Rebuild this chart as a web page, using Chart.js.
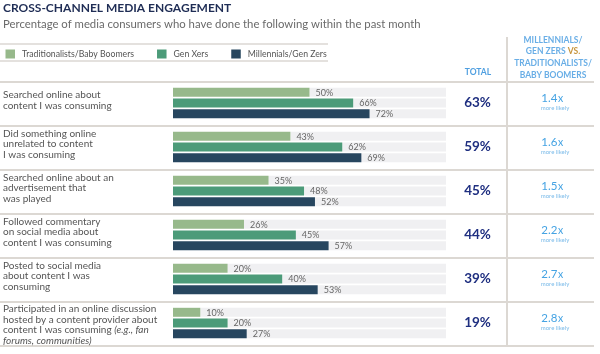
<!DOCTYPE html>
<html><head><meta charset="utf-8">
<script src="https://cdn.jsdelivr.net/npm/chart.js@4/dist/chart.umd.min.js"></script>
<style>html,body{margin:0;padding:0;background:#fff}#c{display:block}</style>
</head><body>
<canvas id="c" width="600" height="354"></canvas>
<script>
// ---- data ----
const titleText = "CROSS-CHANNEL MEDIA ENGAGEMENT";
const subtitleText = "Percentage of media consumers who have done the following within the past month";
const categories = [
  ["Searched online about", "content I was consuming"],
  ["Did something online", "unrelated to content", "I was consuming"],
  ["Searched online about an", "advertisement that", "was played"],
  ["Followed commentary", "on social media about", "content I was consuming"],
  ["Posted to social media", "about content I was", "consuming"],
  ["Participated in an online discussion", "hosted by a content provider about", "content I was consuming _(e.g., fan_", "_forums, communities)_"]
];
const seriesNames = ["Traditionalists/Baby Boomers", "Gen Xers", "Millennials/Gen Zers"];
const tradBoomers = [50, 43, 35, 26, 20, 10];
const genXers = [66, 62, 48, 45, 40, 20];
const millGenZ = [72, 69, 52, 57, 53, 27];
const totals = [63, 59, 45, 44, 39, 19];
const likelihood = [1.4, 1.6, 1.5, 2.2, 2.7, 2.8];
const totalHeader = "TOTAL";
const ratioHeader = ["MILLENNIALS/", "GEN ZERS |VS.", "TRADITIONALISTS/", "BABY BOOMERS"];
const ratioNote = "more likely";

// ---- styles ----
const seriesColors = ["#97b98b", "#4c9b79", "#27465f"];
const trackColor = "#f0f0f2";
const ruleColor = "#dcd8d3";
const FONT = "Lato, 'Open Sans', sans-serif";

const seriesValues = [tradBoomers, genXers, millGenZ];
const datasets = [];
seriesValues.forEach((vals, k) => {
  datasets.push({ label: seriesNames[k], data: vals, backgroundColor: seriesColors[k], stack: "s" + k, isValue: true });
  datasets.push({ label: "track", data: vals.map(v => 100 - v), backgroundColor: trackColor, stack: "s" + k, isValue: false });
});

function drawSegments(ctx, line, x, y, size, color, align) {
  // '_' toggles italic
  const parts = line.split("_");
  const segs = parts.map((t, i) => ({ t, it: i % 2 === 1 })).filter(s => s.t.length);
  let total = 0;
  segs.forEach(s => { ctx.font = (s.it ? "italic " : "") + size + "px " + FONT; s.w = ctx.measureText(s.t).width; total += s.w; });
  let cx = align === "center" ? x - total / 2 : x;
  ctx.textAlign = "left";
  segs.forEach(s => { ctx.font = (s.it ? "italic " : "") + size + "px " + FONT; ctx.fillStyle = color; ctx.fillText(s.t, cx, y); cx += s.w; });
}

const overlay = {
  id: "overlay",
  afterDraw(chart) {
    const ctx = chart.ctx;
    const ys = chart.scales.y;
    const ca = chart.chartArea;
    const n = categories.length;
    const step = (ca.bottom - ca.top) / n;
    ctx.save();
    ctx.textBaseline = "middle";
    // title + subtitle
    ctx.textAlign = "left";
    ctx.fillStyle = "#1f2d55";
    ctx.font = "bold 12px " + FONT;
    ctx.fillText(titleText, 3, 8);
    ctx.fillStyle = "#6a6a6a";
    ctx.font = "11.35px " + FONT;
    ctx.fillText(subtitleText, 3, 24);
    // legend
    ctx.strokeStyle = ruleColor;
    ctx.lineWidth = 1.5;
    ctx.beginPath(); ctx.moveTo(0, 44); ctx.lineTo(328, 44); ctx.moveTo(0, 61); ctx.lineTo(328, 61); ctx.stroke();
    let lx = 5.5;
    ctx.font = "8.7px " + FONT;
    seriesNames.forEach((name, k) => {
      ctx.fillStyle = seriesColors[k];
      ctx.fillRect(lx, 49.5, 9.5, 9);
      ctx.fillStyle = "#555";
      ctx.fillText(name, lx + 16.5, 54.5);
      lx += 16.5 + ctx.measureText(name).width + 23;
    });
    // row separators
    ctx.lineWidth = 2;
    ctx.beginPath();
    for (let i = 0; i <= n; i++) {
      const y = ca.top + i * step + 1;
      ctx.moveTo(0, y); ctx.lineTo(594, y);
    }
    ctx.moveTo(507, 37); ctx.lineTo(507, ca.bottom + 2);
    ctx.stroke();
    // headers
    ctx.textAlign = "center";
    ctx.fillStyle = "#4f9fe0";
    ctx.font = "bold 8.5px " + FONT;
    ctx.fillText(totalHeader, 478, 72);
    ratioHeader.forEach((ln, j) => {
      const y = 40 + j * 11.6;
      const parts = ln.split("|");
      ctx.font = "bold 8.5px " + FONT;
      const w0 = ctx.measureText(parts[0]).width;
      const w1 = parts[1] ? ctx.measureText(parts[1]).width : 0;
      let x = 553 - (w0 + w1) / 2;
      ctx.textAlign = "left";
      ctx.fillStyle = "#69aee6";
      ctx.fillText(parts[0], x, y);
      if (parts[1]) { ctx.fillStyle = "#c8963e"; ctx.fillText(parts[1], x + w0, y); }
    });
    // category labels, values, totals, ratios
    const metas = chart.data.datasets.map((d, i) => chart.getDatasetMeta(i));
    const lh = 10.7;
    for (let i = 0; i < n; i++) {
      const cy = ys.getPixelForValue(i);
      const firstBar = metas[0].data[i];
      const barTop = firstBar.y - firstBar.height / 2;
      const lines = categories[i];
      const startY = Math.max(barTop + 1, cy - 3 - (lines.length - 1) * lh / 2);
      lines.forEach((ln, j) => drawSegments(ctx, ln, 3, startY + j * lh, 10, "#555", "left"));
      // value labels
      ctx.textAlign = "left";
      ctx.font = "9px " + FONT;
      ctx.fillStyle = "#666";
      chart.data.datasets.forEach((d, di) => {
        if (!d.isValue) return;
        const el = metas[di].data[i];
        ctx.fillText(d.data[i] + "%", el.x + 6, el.y + 0.5);
      });
      // totals
      ctx.textAlign = "center";
      ctx.fillStyle = "#1f2f80";
      ctx.font = "bold 13.5px " + FONT;
      ctx.fillText(totals[i] + "%", 477.5, cy);
      // ratio
      const num = likelihood[i].toFixed(1);
      ctx.font = "11.5px " + FONT;
      const wn = ctx.measureText(num).width;
      ctx.font = "10.5px " + FONT;
      const wx = ctx.measureText("x").width;
      let rx = 552 - (wn + wx) / 2;
      ctx.textAlign = "left";
      ctx.fillStyle = "#45a3e3";
      ctx.font = "11.5px " + FONT;
      ctx.fillText(num, rx, cy - 4.5);
      ctx.font = "10.5px " + FONT;
      ctx.fillText("x", rx + wn + 0.5, cy - 4.5);
      ctx.textAlign = "center";
      ctx.font = "6px " + FONT;
      ctx.fillStyle = "#7bbbe9";
      ctx.fillText(ratioNote, 555, cy + 5.5);
    }
    ctx.restore();
  }
};

new Chart(document.getElementById("c"), {
  type: "bar",
  data: { labels: categories.map(l => l.join(" ").replace(/_/g, "")), datasets },
  options: {
    indexAxis: "y",
    responsive: false,
    animation: false,
    devicePixelRatio: 1,
    layout: { padding: { left: 173, right: 154, top: 81, bottom: 9 } },
    datasets: { bar: { categoryPercentage: 0.73, barPercentage: 0.84, borderWidth: 0 } },
    plugins: { legend: { display: false }, tooltip: { enabled: false } },
    scales: {
      x: { stacked: true, min: 0, max: 100, display: false },
      y: { stacked: true, display: false }
    }
  },
  plugins: [overlay]
});
</script>
</body></html>
